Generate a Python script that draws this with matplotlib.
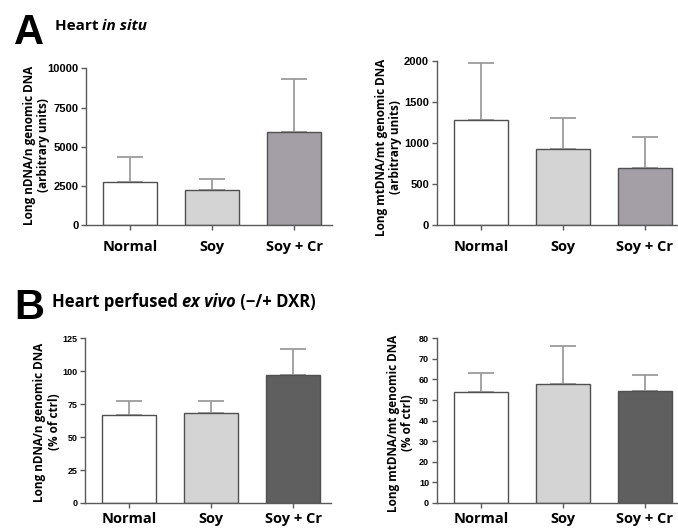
import matplotlib
matplotlib.use('Agg')
import matplotlib.pyplot as plt
import numpy as np
from matplotlib import font_manager

# group names and values (mean and upper SEM)
groups = ['Normal', 'Soy', 'Soy + Cr']

a_nuc_mean = [2750, 2250, 5950]
a_nuc_sem = [1600, 720, 3380]
a_mt_mean = [1280, 930, 695]
a_mt_sem = [700, 375, 375]

b_nuc_mean = [67, 68, 97.5]
b_nuc_sem = [10.5, 9.5, 19.3]
b_mt_mean = [53.8, 57.8, 54.6]
b_mt_sem = [9.2, 18.3, 7.7]

a_colors = ['#ffffff', '#d4d4d4', '#a49fa7']
b_colors = ['#ffffff', '#d4d4d4', '#5f5f5f']

W, H = 678, 528

installed = {f.name for f in font_manager.fontManager.ttflist}
narrow = 'Liberation Sans Narrow' if 'Liberation Sans Narrow' in installed else 'Liberation Sans'
label_font = ['Open Sans', 'DejaVu Sans']


def px_axes(fig, x0, y_top, y_bot, width=246):
    return fig.add_axes([x0 / W, 1 - y_bot / H, width / W, (y_bot - y_top) / H])


def bar_panel(ax, means, sems, colors, ylim, yticks, tick_font, tick_size, cat_pad):
    x = np.arange(len(groups))
    ax.errorbar(x, means, yerr=[np.zeros(len(sems)), sems], fmt='none',
                ecolor='#9c9c9c', elinewidth=1.3, capsize=9.4, capthick=1.3, zorder=1)
    ax.bar(x, means, width=0.66, color=colors, edgecolor='#505050', linewidth=1.0, zorder=2)
    ax.set_xlim(-0.54, 2.46)
    ax.set_ylim(*ylim)
    ax.set_yticks(yticks)
    ax.set_xticks(x)
    ax.set_xticklabels(groups, fontfamily=label_font, fontweight='bold', fontsize=10.5)
    for lab in ax.get_yticklabels():
        lab.set_fontfamily([tick_font, 'DejaVu Sans'])
        lab.set_fontweight('bold')
        lab.set_fontsize(tick_size)
    for s in ['top', 'right']:
        ax.spines[s].set_visible(False)
    for s in ['left', 'bottom']:
        ax.spines[s].set_color('#5a5a5a')
        ax.spines[s].set_linewidth(1.0)
    ax.tick_params(axis='y', length=3.5, width=1.0, color='#5a5a5a', pad=2)
    ax.tick_params(axis='x', length=3.5, width=1.0, color='#5a5a5a', pad=cat_pad)


def title_pieces(fig, x_px, y_px, pieces, size):
    # pieces: list of (text, style); laid out left to right
    renderer = fig.canvas.get_renderer()
    x = x_px
    for txt, style in pieces:
        t = fig.text(x / W, 1 - y_px / H, txt, fontfamily=label_font, fontweight='bold',
                     fontstyle=style, fontsize=size, va='center', ha='left')
        bb = t.get_window_extent(renderer=renderer)
        x += bb.width


fig = plt.figure(figsize=(W / 100, H / 100), dpi=100)

ax1 = px_axes(fig, 86, 68.3, 225.3)
bar_panel(ax1, a_nuc_mean, a_nuc_sem, a_colors, (0, 10000),
          [0, 2500, 5000, 7500, 10000], 'Liberation Sans', 8, 7)

ax2 = px_axes(fig, 436.7, 61, 225.3)
bar_panel(ax2, a_mt_mean, a_mt_sem, a_colors, (0, 2000),
          [0, 500, 1000, 1500, 2000], 'Liberation Sans', 8, 7)

ax3 = px_axes(fig, 85, 338.3, 503)
bar_panel(ax3, b_nuc_mean, b_nuc_sem, b_colors, (0, 125),
          [0, 25, 50, 75, 100, 125], narrow, 6.5, 3)

ax4 = px_axes(fig, 436.7, 338.3, 503)
bar_panel(ax4, b_mt_mean, b_mt_sem, b_colors, (0, 80),
          list(range(0, 81, 10)), narrow, 6.5, 3)

# y axis labels
ylabels = [
    (37, 145, 'Long nDNA/n genomic DNA\n(arbitrary units)'),
    (388, 147, 'Long mtDNA/mt genomic DNA\n(arbitrary units)'),
    (47, 422, 'Long nDNA/n genomic DNA\n(% of ctrl)'),
    (401, 423, 'Long mtDNA/mt genomic DNA\n(% of ctrl)'),
]
for xp, yp, txt in ylabels:
    fig.text(xp / W, 1 - yp / H, txt, rotation=90, ha='center', va='center',
             fontfamily=label_font, fontweight='bold', fontsize=8.5, linespacing=1.1)

# panel letters and titles
fig.text(14 / W, 1 - 33 / H, 'A', fontfamily=['Liberation Sans', 'DejaVu Sans'],
         fontweight='bold', fontsize=30, va='center', ha='left')
title_pieces(fig, 55, 26, [('Heart ', 'normal'), ('in situ', 'italic')], 11)
fig.text(14 / W, 1 - 308 / H, 'B', fontfamily=['Liberation Sans', 'DejaVu Sans'],
         fontweight='bold', fontsize=30, va='center', ha='left')
title_pieces(fig, 52, 302, [('Heart perfused ', 'normal'), ('ex vivo', 'italic'),
                            (' (\u2212/+ DXR)', 'normal')], 12)

fig.savefig('out.png', dpi=100)
